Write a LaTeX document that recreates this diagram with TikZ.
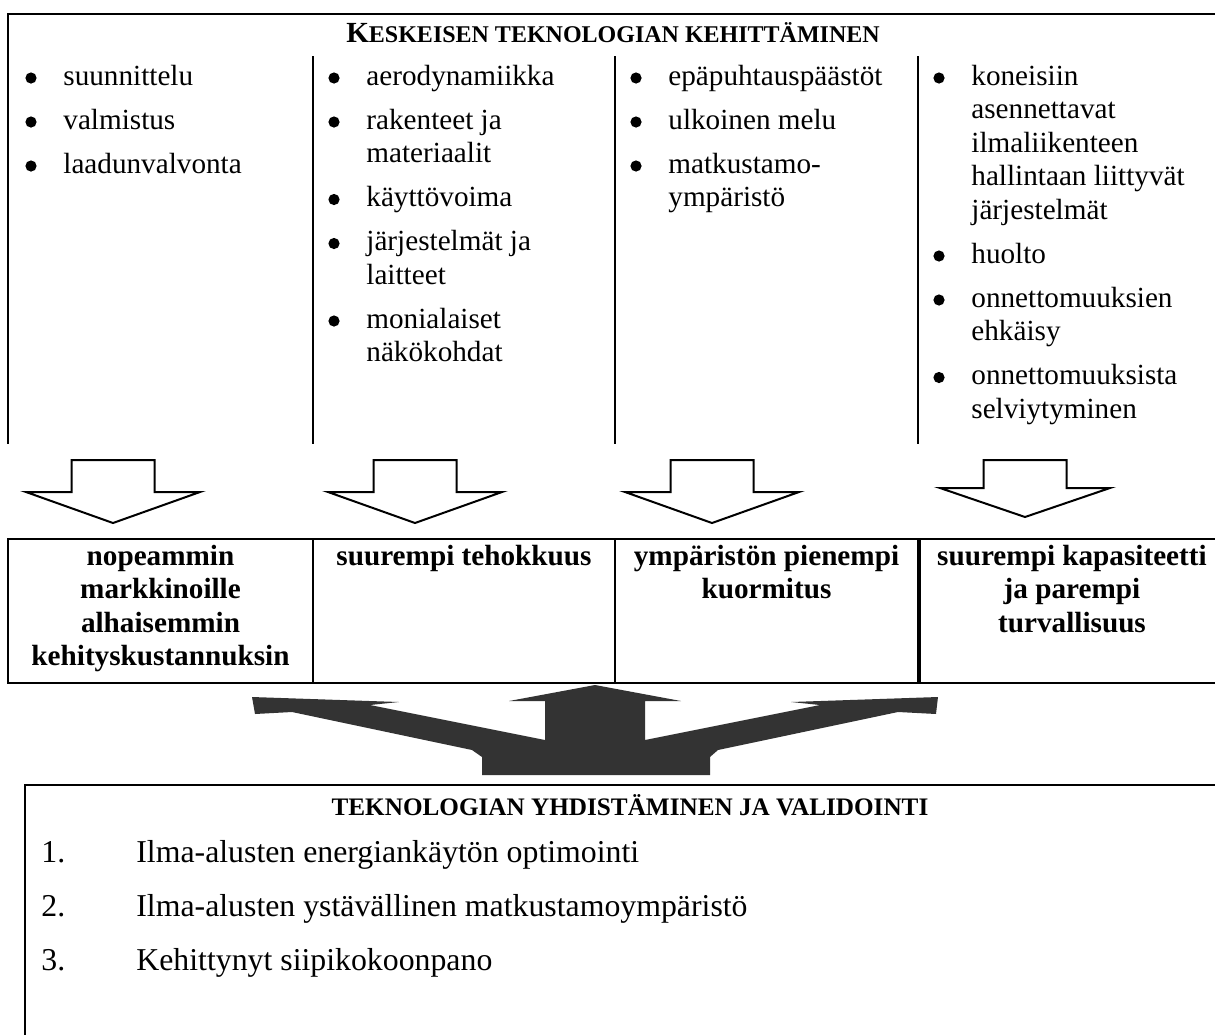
\documentclass[tikz,border=0pt]{standalone}
\usepackage{fontspec}
\setmainfont{Liberation Serif}
\newcommand\bitem[4]{%
  \node[bul] (#1b) at (#2+21,#3-7) {};
  \foreach \l [count=\i from 0] in {#4}
    \node[txt] (#1-\i) at (#2+53,#3+33.5*\i) {\l};
}
\newcommand\ctext[4]{%
  \foreach \l [count=\i from 0] in {#4}
    \node[btxt] (#1-\i) at (#2,#3+33.5*\i) {\l};
}
% name, centre x, top, shoulder, tip, head half width
\newcommand\hollowarr[6]{%
  \draw[hollow] (#2-41.5,#3) -- (#2+41.5,#3) -- (#2+41.5,#4) -- (#2+#6,#4)
    -- (#2,#5) coordinate (#1) -- (#2-#6,#4) -- (#2-41.5,#4) -- cycle;
}
\definecolor{darkfill}{RGB}{51,51,51}
\begin{document}
\begin{tikzpicture}[x=0.5pt,y=-0.5pt,
  rule/.style={line width=1.35pt,line cap=rect},
  txt/.style={anchor=base west,inner sep=0pt,font=\fontsize{14.6}{16.75}\selectfont},
  bul/.style={circle,fill=black,inner sep=0pt,minimum size=5.6pt},
  btxt/.style={anchor=base,inner sep=0pt,font=\fontsize{14.6}{16.75}\selectfont\bfseries},
  ltxt/.style={anchor=base west,inner sep=0pt,font=\fontsize{15.9}{18}\selectfont},
  hollow/.style={draw,line width=1pt,fill=white,line join=miter},
  ]
\useasboundingbox (0,0) rectangle (1215,1034);

% top frame
\draw[rule] (8,443) -- (8,14) -- (1250,14);
\foreach \x in {313,615,918} \draw[rule] (\x,57) -- (\x,443);
\node[anchor=base,inner sep=0pt] (hdr) at (613,42)
  {\bfseries\fontsize{14.6}{16}\selectfont K\fontsize{12}{14}\selectfont ESKEISEN TEKNOLOGIAN KEHITTÄMINEN};

% column 1
\bitem{a1}{10}{85}{suunnittelu}
\bitem{a2}{10}{129}{valmistus}
\bitem{a3}{10}{173}{laadunvalvonta}
% column 2
\bitem{b1}{313}{85}{aerodynamiikka}
\bitem{b2}{313}{129}{rakenteet ja, materiaalit}
\bitem{b3}{313}{206.5}{käyttövoima}
\bitem{b4}{313}{250.5}{järjestelmät ja, laitteet}
\bitem{b5}{313}{328}{monialaiset, näkökohdat}
% column 3
\bitem{c1}{615}{85}{epäpuhtauspäästöt}
\bitem{c2}{615}{129}{ulkoinen melu}
\bitem{c3}{615}{173}{matkustamo-, ympäristö}
% column 4
\bitem{d1}{918}{85}{koneisiin, asennettavat, ilmaliikenteen, hallintaan liittyvät, järjestelmät}
\bitem{d2}{918}{263}{huolto}
\bitem{d3}{918}{307}{onnettomuuksien, ehkäisy}
\bitem{d4}{918}{384.5}{onnettomuuksista, selviytyminen}

% hollow down arrows
\hollowarr{t1}{113}{460}{492}{523}{87}
\hollowarr{t2}{415}{460}{492}{523}{87}
\hollowarr{t3}{712}{460}{492}{523}{87}
\hollowarr{t4}{1025}{460}{488}{517}{85}

% result boxes
\draw[rule] (8,539) rectangle (313,683);
\draw[rule] (313,539) rectangle (615,683);
\draw[rule] (615,539) rectangle (918,683);
\draw[rule] (920,539) rectangle (1250,683);
\ctext{r1}{160.5}{565}{nopeammin, markkinoille, alhaisemmin, kehityskustannuksin}
\ctext{r2}{464}{565}{suurempi tehokkuus}
\ctext{r3}{766.5}{565}{ympäristön pienempi, kuormitus}
\ctext{r4}{1072}{565}{suurempi kapasiteetti, ja parempi, turvallisuus}

% dark three-way arrow
\fill[darkfill] (595,685) -- (681,701) -- (645,701) -- (645,740) -- (820,705)
  -- (791,702) -- (938,697) -- (936,714) -- (898,712) -- (718,750) -- (710,757)
  -- (710,775) -- (482,775) -- (482,757) -- (472,750) -- (292,712) -- (255,714)
  -- (252,697) -- (399,702) -- (370,705) -- (545,740) -- (545,701) -- (509,701) -- cycle;

% bottom box
\draw[rule] (25,1060) -- (25,785) -- (1250,785);
\node[anchor=base,inner sep=0pt,font=\fontsize{12.6}{14}\selectfont\bfseries] (hdr2) at (630,815)
  {TEKNOLOGIAN YHDISTÄMINEN JA VALIDOINTI};
\node[ltxt] (n1) at (41,862) {1.};
\node[ltxt] (i1) at (136,862) {Ilma-alusten energiankäytön optimointi};
\node[ltxt] (n2) at (41,916) {2.};
\node[ltxt] (i2) at (136,916) {Ilma-alusten ystävällinen matkustamoympäristö};
\node[ltxt] (n3) at (41,970) {3.};
\node[ltxt] (i3) at (136,970) {Kehittynyt siipikokoonpano};
\end{tikzpicture}
\end{document}
